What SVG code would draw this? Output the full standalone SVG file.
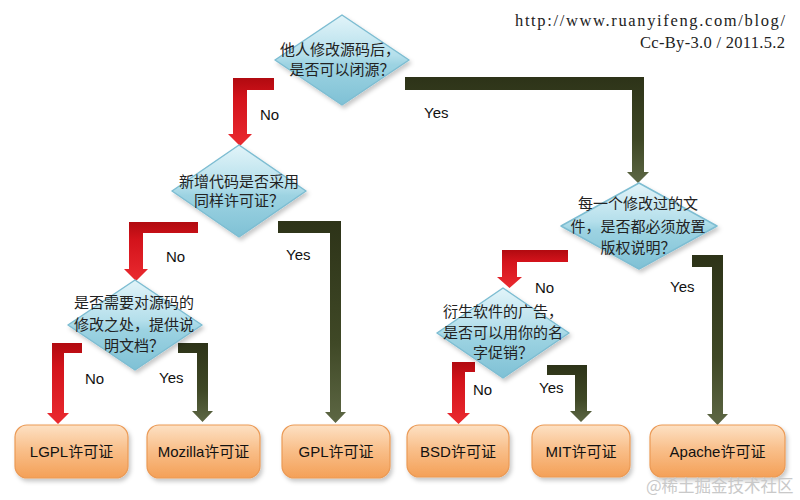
<svg xmlns="http://www.w3.org/2000/svg" width="800" height="500" viewBox="0 0 800 500">
<defs>
<linearGradient id="gDia" x1="0" y1="0" x2="0" y2="1">
<stop offset="0" stop-color="#e2f4f9"/>
<stop offset="0.45" stop-color="#b4dfeb"/>
<stop offset="0.55" stop-color="#9dd3e2"/>
<stop offset="1" stop-color="#7fc1d5"/>
</linearGradient>
<linearGradient id="gBox" x1="0" y1="0" x2="0" y2="1">
<stop offset="0" stop-color="#fde1c4"/>
<stop offset="0.45" stop-color="#f9c08c"/>
<stop offset="1" stop-color="#f4a057"/>
</linearGradient>
<linearGradient id="gRed" x1="0" y1="0" x2="0" y2="1">
<stop offset="0" stop-color="#b10a10"/>
<stop offset="0.3" stop-color="#d3131b"/>
<stop offset="1" stop-color="#ea2a30"/>
</linearGradient>
<linearGradient id="gGreen" x1="0" y1="0" x2="0" y2="1">
<stop offset="0" stop-color="#2d3318"/>
<stop offset="0.6" stop-color="#3f4826"/>
<stop offset="1" stop-color="#5d6744"/>
</linearGradient>
<filter id="sh" x="-10%" y="-10%" width="130%" height="130%">
<feDropShadow dx="2" dy="3" stdDeviation="2" flood-color="#000" flood-opacity="0.22"/>
</filter>
</defs>
<style>
.dia{fill:url(#gDia);stroke:#7dbdd2;stroke-width:1.5;stroke-linejoin:round;filter:url(#sh)}
.box{fill:url(#gBox);stroke:#eb9a55;stroke-width:1.2;filter:url(#sh)}
.no{fill:url(#gRed)}
.yes{fill:url(#gGreen)}
.dt{font-family:"Noto Sans CJK SC","Liberation Sans",sans-serif;font-size:15px;fill:#222;text-anchor:middle}
.bt{font-family:"Liberation Sans","Noto Sans CJK SC",sans-serif;font-size:15px;fill:#111;text-anchor:middle}
.lb{font-family:"Liberation Sans",Arial,sans-serif;font-size:15px;fill:#111}
.hd{font-family:"Liberation Serif","Times New Roman",serif;font-size:16.5px;fill:#222;text-anchor:end}
.wm{font-family:"Noto Sans CJK SC",sans-serif;font-size:16.5px;fill:#c9c9c9}
</style>
<rect width="800" height="500" fill="#ffffff"/>

<g id="connectors">
<path class="no" d="M274,78 L233,78 L233,134 L228,134 L240,146 L252,134 L247,134 L247,90 L274,90 Z"/>
<path class="yes" d="M405,77 L644,77 L644,172 L649,172 L638,183 L627,172 L632,172 L632,90 L405,90 Z"/>
<path class="no" d="M198,222 L129,222 L129,269 L124,269 L136,281 L148,269 L143,269 L143,233 L198,233 Z"/>
<path class="yes" d="M278,221 L341,221 L341,412 L346,412 L335.5,423 L325,412 L330,412 L330,233 L278,233 Z"/>
<path class="no" d="M82,343 L52,343 L52,413 L47,413 L58,424 L69,413 L64,413 L64,353 L82,353 Z"/>
<path class="yes" d="M178,343 L208,343 L208,411 L213,411 L202.5,422 L192,411 L197,411 L197,353 L178,353 Z"/>
<path class="no" d="M568,250 L502,250 L502,277 L497,277 L509.5,288 L522,277 L517,277 L517,262 L568,262 Z"/>
<path class="yes" d="M692,255 L723,255 L723,414 L728,414 L717.5,425 L707,414 L712,414 L712,267 L692,267 Z"/>
<path class="no" d="M475,362 L452,362 L452,413 L447,413 L458.5,424 L470,413 L465,413 L465,372 L475,372 Z"/>
<path class="yes" d="M547,365 L587,365 L587,411 L592,411 L581,422 L570,411 L575,411 L575,375 L547,375 Z"/>
<text class="lb" x="260" y="120">No</text>
<text class="lb" x="424" y="118">Yes</text>
<text class="lb" x="166" y="262">No</text>
<text class="lb" x="286" y="260">Yes</text>
<text class="lb" x="85" y="384">No</text>
<text class="lb" x="159" y="383">Yes</text>
<text class="lb" x="535" y="293">No</text>
<text class="lb" x="670" y="292">Yes</text>
<text class="lb" x="473" y="395">No</text>
<text class="lb" x="539" y="393">Yes</text>
</g>

<g id="q1">
<polygon class="dia" points="342,15 409,60 342,105 275,60"/>
<text class="dt" x="340" y="55">他人修改源码后，</text>
<text class="dt" x="342" y="75">是否可以闭源？</text>
</g>
<g id="q2">
<polygon class="dia" points="239,145 306,191 239,237 172,191"/>
<text class="dt" x="239" y="187">新增代码是否采用</text>
<text class="dt" x="239" y="206">同样许可证？</text>
</g>
<g id="q3">
<polygon class="dia" points="135,280 202,325 135,370 68,325"/>
<text class="dt" x="134" y="308">是否需要对源码的</text>
<text class="dt" x="134" y="330">修改之处，提供说</text>
<text class="dt" x="134" y="351">明文档？</text>
</g>
<g id="q4">
<polygon class="dia" points="639,183 717,226 639,269 561,226"/>
<text class="dt" x="638" y="209">每一个修改过的文</text>
<text class="dt" x="638" y="232">件，是否都必须放置</text>
<text class="dt" x="638" y="253">版权说明？</text>
</g>
<g id="q5">
<polygon class="dia" points="503,288 569,333 503,378 437,333"/>
<text class="dt" x="503" y="317">衍生软件的广告，</text>
<text class="dt" x="503" y="338">是否可以用你的名</text>
<text class="dt" x="503" y="358">字促销？</text>
</g>

<g id="lgpl">
<rect class="box" x="15" y="425" width="113" height="53" rx="12"/>
<text class="bt" x="71.5" y="457">LGPL许可证</text>
</g>
<g id="mozilla">
<rect class="box" x="147" y="425" width="113" height="53" rx="12"/>
<text class="bt" x="203.5" y="457">Mozilla许可证</text>
</g>
<g id="gpl">
<rect class="box" x="282" y="425" width="108" height="53" rx="12"/>
<text class="bt" x="336" y="457">GPL许可证</text>
</g>
<g id="bsd">
<rect class="box" x="407" y="425" width="102" height="52" rx="12"/>
<text class="bt" x="458" y="457">BSD许可证</text>
</g>
<g id="mit">
<rect class="box" x="532" y="425" width="98" height="52" rx="12"/>
<text class="bt" x="581" y="457">MIT许可证</text>
</g>
<g id="apache">
<rect class="box" x="650" y="425" width="135" height="52" rx="12"/>
<text class="bt" x="717.5" y="457">Apache许可证</text>
</g>

<g id="header">
<text class="hd" x="785" y="26" textLength="270" lengthAdjust="spacing">http://www.ruanyifeng.com/blog/</text>
<text class="hd" x="785" y="48" textLength="145" lengthAdjust="spacing">Cc-By-3.0 / 2011.5.2</text>
</g>
<text class="wm" x="646" y="492">@稀土掘金技术社区</text>
</svg>
